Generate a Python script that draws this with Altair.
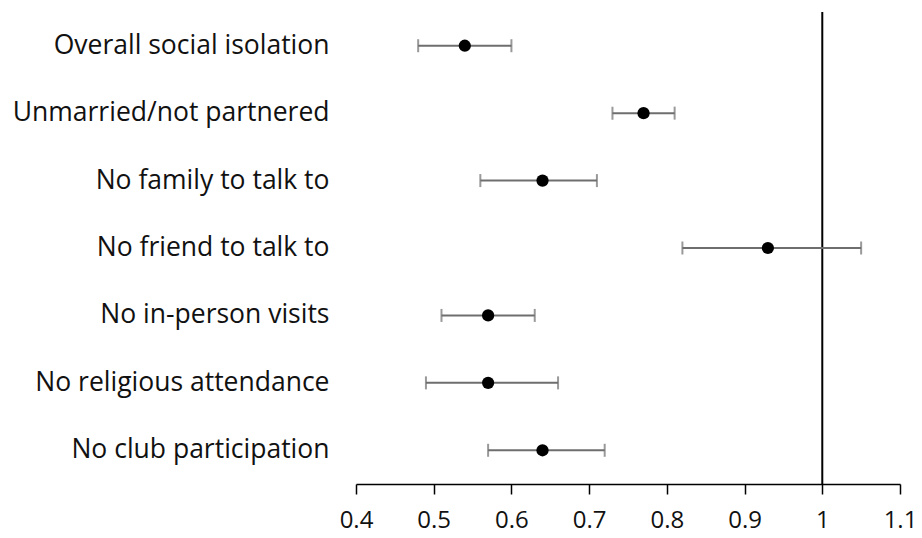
import altair as alt
import pandas as pd

# Odds ratios with 95% confidence intervals for each isolation measure
measures = [
    "Overall social isolation",
    "Unmarried/not partnered",
    "No family to talk to",
    "No friend to talk to",
    "No in-person visits",
    "No religious attendance",
    "No club participation",
]
estimate = [0.54, 0.77, 0.64, 0.93, 0.57, 0.57, 0.64]
ci_low = [0.48, 0.73, 0.56, 0.82, 0.51, 0.49, 0.57]
ci_high = [0.60, 0.81, 0.71, 1.05, 0.63, 0.66, 0.72]
x_ticks = [0.4, 0.5, 0.6, 0.7, 0.8, 0.9, 1.0, 1.1]

df = pd.DataFrame({"measure": measures, "est": estimate, "lo": ci_low, "hi": ci_high})

FONT = "Open Sans"
x_scale = alt.Scale(domain=[0.4, 1.1], nice=False, zero=False)
y_enc = alt.Y(
    "measure:N",
    sort=measures,
    scale=alt.Scale(paddingInner=0, paddingOuter=0),
    axis=alt.Axis(
        title=None, domain=False, ticks=False, grid=False,
        labelFont=FONT, labelFontSize=26.5, labelColor="#111111",
        labelPadding=27, labelLimit=400,
    ),
)
x_axis = alt.Axis(
    title=None, values=x_ticks, format="~g", grid=False,
    domainColor="#000000", domainWidth=1.5,
    tickColor="#000000", tickWidth=1.5, tickSize=10,
    labelFont=FONT, labelFontSize=24, labelColor="#111111", labelPadding=14,
    labelFlush=False,
)

base = alt.Chart(df)

whisker = base.mark_rule(color="#6e6e6e", strokeWidth=2).encode(
    x=alt.X("lo:Q", scale=x_scale, axis=x_axis), x2="hi:Q", y=y_enc
)
cap_lo = base.mark_tick(color="#6e6e6e", thickness=2, size=13).encode(
    x=alt.X("lo:Q", scale=x_scale), y=y_enc
)
cap_hi = base.mark_tick(color="#6e6e6e", thickness=2, size=13).encode(
    x=alt.X("hi:Q", scale=x_scale), y=y_enc
)
dots = base.mark_circle(color="#000000", opacity=1, size=150).encode(
    x=alt.X("est:Q", scale=x_scale), y=y_enc
)
ref_line = alt.Chart(pd.DataFrame({"ref": [1.0]})).mark_rule(
    color="#000000", strokeWidth=2
).encode(x=alt.X("ref:Q", scale=x_scale))

chart = (
    alt.layer(ref_line, whisker, cap_lo, cap_hi, dots)
    .properties(
        width=544,
        height=472,
        background="#ffffff",
        autosize=alt.AutoSizeParams(type="none"),
        padding={"left": 356, "top": 12, "right": 22, "bottom": 54},
    )
    .configure_view(stroke="transparent", strokeWidth=0)
)

chart.save("out.html", embed_options={"renderer": "svg", "actions": False})
